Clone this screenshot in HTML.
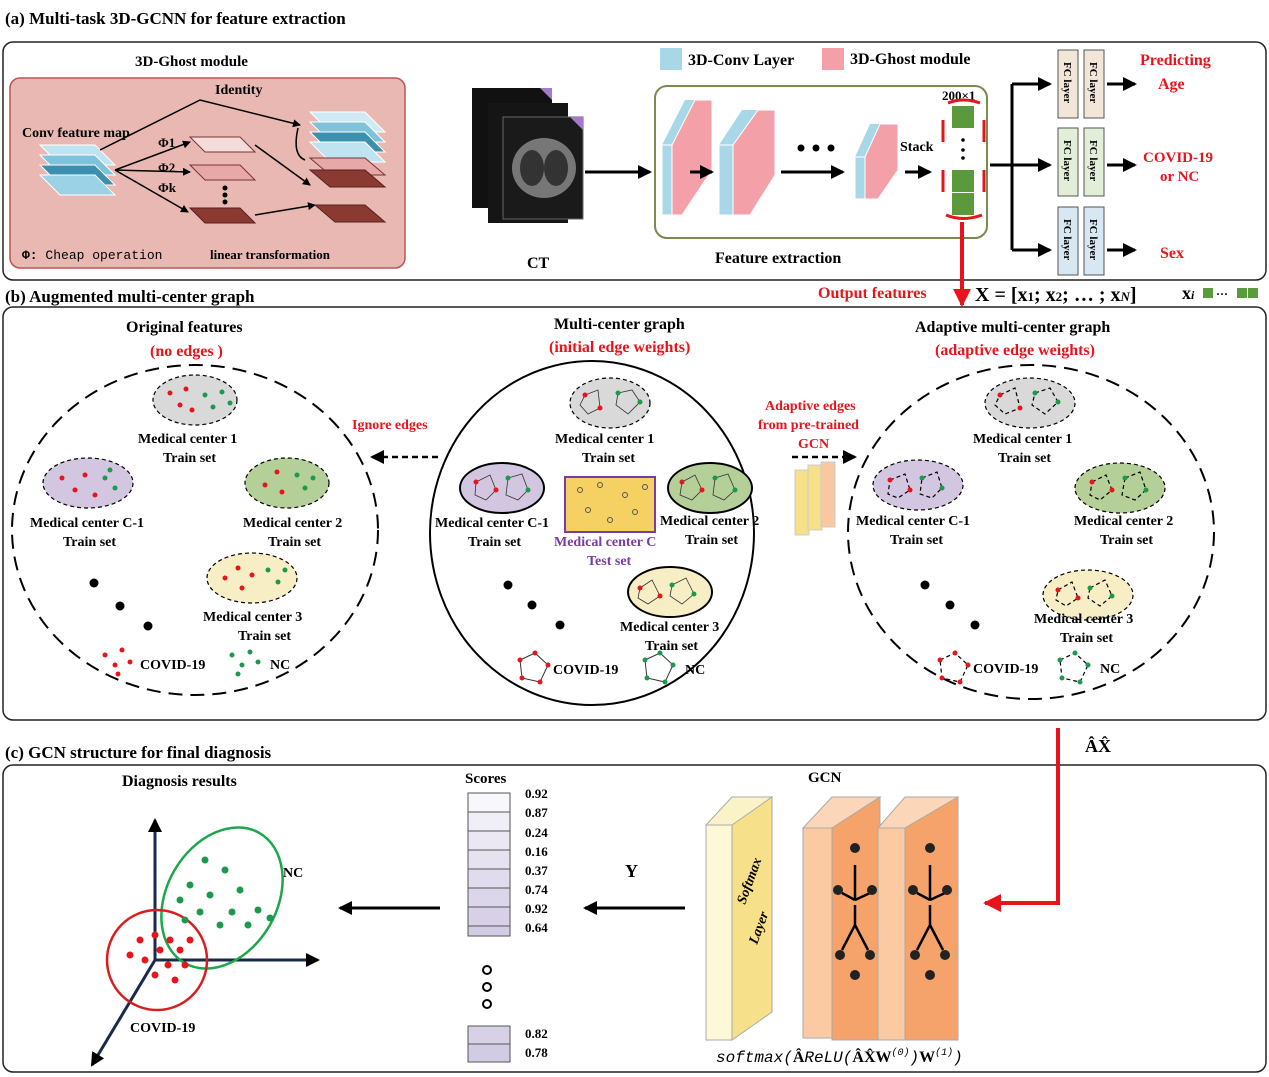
<!DOCTYPE html>
<html><head><meta charset="utf-8"><style>
body{margin:0;background:#fff}
svg{display:block;font-family:"Liberation Serif",serif;font-weight:bold}
.t{font-size:15px}
.r{fill:#e8141c}
</style></head><body>
<svg width="1269" height="1077" viewBox="0 0 1269 1077" xmlns="http://www.w3.org/2000/svg">
<defs>
<marker id="ar" markerWidth="8" markerHeight="8" refX="7" refY="4" orient="auto" markerUnits="userSpaceOnUse"><path d="M0,0 L8,4 L0,8z" fill="#000"/></marker>
<marker id="ab" markerWidth="14" markerHeight="14" refX="12" refY="7" orient="auto" markerUnits="userSpaceOnUse"><path d="M0,0 L14,7 L0,14z" fill="#000"/></marker>
<marker id="arr" markerWidth="18" markerHeight="18" refX="16" refY="9" orient="auto" markerUnits="userSpaceOnUse"><path d="M0,0 L18,9 L0,18z" fill="#e8141c"/></marker>
</defs>
<!-- panel a -->
<text x="5" y="24" font-size="17">(a) Multi-task 3D-GCNN for feature extraction</text>
<rect x="3" y="42" width="1263" height="238" rx="10" fill="none" stroke="#222" stroke-width="1.5"/>
<rect x="10" y="78" width="395" height="190" rx="10" fill="#e9b8b2" stroke="#b55" stroke-width="1.5"/>
<text x="135" y="66" class="t" font-size="16">3D-Ghost module</text>
<text x="215" y="94" font-size="14">Identity</text>
<text x="22" y="137" font-size="14">Conv feature map</text>
<g>
<polygon points="40,145 95,145 115,165 60,165" fill="#bfe3f0" stroke="#fff"/>
<polygon points="40,155 95,155 115,175 60,175" fill="#7fc2da" stroke="#fff"/>
<polygon points="40,165 95,165 115,185 60,185" fill="#3d8fb0" stroke="#fff"/>
<polygon points="40,175 95,175 115,195 60,195" fill="#9bd2e6" stroke="#fff"/>
</g>
<polygon points="190,137 240,137 255,152 205,152" fill="#f5dcdc" stroke="#733"/>
<polygon points="190,165 240,165 255,180 205,180" fill="#e8a8a8" stroke="#733"/>
<polygon points="190,208 240,208 255,223 205,223" fill="#8b3a32" stroke="#522"/>
<circle cx="225" cy="188" r="2.5"/><circle cx="225" cy="195" r="2.5"/><circle cx="225" cy="202" r="2.5"/>
<text x="158" y="147" font-size="13">Φ1</text><text x="158" y="172" font-size="13">Φ2</text><text x="158" y="192" font-size="13">Φk</text>
<g stroke="#000" stroke-width="1.5" fill="none">
<path d="M115,170 L190,142" marker-end="url(#ar)"/><path d="M115,170 L190,172" marker-end="url(#ar)"/><path d="M115,170 L188,212" marker-end="url(#ar)"/>
<path d="M100,150 L200,100 L300,125" marker-end="url(#ar)"/>
<path d="M255,145 L310,185" marker-end="url(#ar)"/><path d="M255,215 L315,205" marker-end="url(#ar)"/>
<path d="M298,128 Q292,155 305,160"/>
</g>
<g>
<polygon points="310,112 365,112 385,132 330,132" fill="#cfeaf4" stroke="#fff"/>
<polygon points="310,122 365,122 385,142 330,142" fill="#7fc2da" stroke="#fff"/>
<polygon points="310,132 365,132 385,152 330,152" fill="#3d8fb0" stroke="#fff"/>
<polygon points="310,142 365,142 385,162 330,162" fill="#bfe3f0" stroke="#fff"/>
<polygon points="310,158 365,158 385,175 330,175" fill="#e8a8a8" stroke="#733"/>
<polygon points="310,170 365,170 385,187 330,187" fill="#8b3a32" stroke="#522"/>
<polygon points="315,205 365,205 385,222 335,222" fill="#8b3a32" stroke="#522"/>
</g>
<text x="22" y="259" font-family="Liberation Mono,monospace" font-weight="normal" font-size="13"><tspan font-weight="bold">Φ:</tspan> Cheap operation</text>
<text x="210" y="259" font-size="13">linear transformation</text>
<!-- CT -->
<rect x="472" y="88" width="80" height="120" fill="#111"/><polygon points="540,88 552,88 552,100" fill="#a57acc"/>
<rect x="488" y="103" width="80" height="120" fill="#151515"/>
<rect x="503" y="117" width="80" height="102" fill="#1a1a1a" stroke="#666"/>
<polygon points="570,117 583,117 583,130" fill="#a57acc"/>
<ellipse cx="544" cy="168" rx="32" ry="30" fill="#777"/><ellipse cx="532" cy="168" rx="12" ry="18" fill="#333"/><ellipse cx="556" cy="168" rx="12" ry="18" fill="#333"/>
<text x="527" y="268" font-size="16">CT</text>
<line x1="585" y1="172" x2="650" y2="172" stroke="#000" stroke-width="3" marker-end="url(#ab)"/>
<!-- legend -->
<rect x="660" y="48" width="22" height="22" fill="#a8d8e8"/><text x="688" y="65" font-size="16">3D-Conv Layer</text>
<rect x="822" y="48" width="22" height="22" fill="#f4a0a8"/><text x="850" y="64" font-size="16">3D-Ghost module</text>
<rect x="655" y="86" width="332" height="152" rx="12" fill="none" stroke="#7a8a50" stroke-width="2"/>
<g>
<polygon points="662,145 685,100 705,100 682,145" fill="#a8d8e8"/><rect x="662" y="145" width="10" height="70" fill="#a8d8e8" stroke="#fff"/>
<polygon points="672,145 695,100 712,100 712,170 682,215 672,215" fill="#f4a0a8" stroke="#fff"/>
<polygon points="719,145 742,110 760,110 737,145" fill="#a8d8e8"/><rect x="719" y="145" width="14" height="70" fill="#a8d8e8" stroke="#fff"/>
<polygon points="733,145 758,110 775,110 775,175 750,215 733,215" fill="#f4a0a8" stroke="#fff"/>
<polygon points="855,157 870,124 880,124 866,157" fill="#a8d8e8"/><rect x="855" y="157" width="10" height="42" fill="#a8d8e8" stroke="#fff"/>
<polygon points="865,157 880,124 898,124 898,170 878,199 865,199" fill="#f4a0a8" stroke="#fff"/>
</g>
<g stroke="#000" stroke-width="3"><line x1="690" y1="172" x2="712" y2="172" marker-end="url(#ab)"/><line x1="781" y1="172" x2="843" y2="172" marker-end="url(#ab)"/><line x1="905" y1="172" x2="930" y2="172" marker-end="url(#ab)"/></g>
<circle cx="801" cy="148" r="3.5"/><circle cx="816" cy="148" r="3.5"/><circle cx="831" cy="148" r="3.5"/>
<text x="900" y="151" font-size="14">Stack</text>
<text x="942" y="100" font-size="13">200×1</text>
<rect x="952" y="106" width="22" height="22" fill="#5a9a3a"/><rect x="952" y="170" width="22" height="22" fill="#5a9a3a"/><rect x="952" y="193" width="22" height="22" fill="#5a9a3a"/>
<circle cx="963" cy="140" r="1.8"/><circle cx="963" cy="150" r="1.8"/><circle cx="963" cy="158" r="1.8"/>
<g stroke="#e8141c" stroke-width="3" fill="none"><path d="M948,103 Q963,97 980,103"/><path d="M943,120 v22 M943,170 v22 M984,120 v22 M984,170 v22"/><path d="M946,215 Q963,222 982,215"/></g>
<text x="715" y="263" font-size="16">Feature extraction</text>
<g stroke="#000" stroke-width="3" fill="none"><path d="M990,165 H1012"/><path d="M1012,84 V250"/><path d="M1012,84 H1050" marker-end="url(#ab)"/><path d="M1012,165 H1050" marker-end="url(#ab)"/><path d="M1012,250 H1050" marker-end="url(#ab)"/><path d="M1107,84 H1135" marker-end="url(#ab)"/><path d="M1107,165 H1135" marker-end="url(#ab)"/><path d="M1107,250 H1135" marker-end="url(#ab)"/></g>
<g font-size="11">
<rect x="1058" y="50" width="20" height="68" fill="#f1e6d8" stroke="#555"/><rect x="1084" y="50" width="20" height="68" fill="#f1e6d8" stroke="#555"/>
<rect x="1058" y="128" width="20" height="68" fill="#e3eed8" stroke="#555"/><rect x="1084" y="128" width="20" height="68" fill="#e3eed8" stroke="#555"/>
<rect x="1058" y="207" width="20" height="68" fill="#d8e8f3" stroke="#555"/><rect x="1084" y="207" width="20" height="68" fill="#d8e8f3" stroke="#555"/>
<text transform="translate(1064,62) rotate(90)">FC layer</text><text transform="translate(1090,62) rotate(90)">FC layer</text>
<text transform="translate(1064,140) rotate(90)">FC layer</text><text transform="translate(1090,140) rotate(90)">FC layer</text>
<text transform="translate(1064,219) rotate(90)">FC layer</text><text transform="translate(1090,219) rotate(90)">FC layer</text>
</g>
<g class="r" font-size="16"><text x="1140" y="65">Predicting</text><text x="1158" y="89">Age</text><text x="1143" y="162" font-size="15">COVID-19</text><text x="1160" y="181" font-size="15">or NC</text><text x="1160" y="258">Sex</text></g>
<!-- output -->
<line x1="962" y1="222" x2="962" y2="305" stroke="#e8141c" stroke-width="4" marker-end="url(#arr)"/>
<text x="818" y="298" class="r" font-size="16">Output features</text>
<text x="975" y="301" font-size="20">X = [x<tspan font-size="13">1</tspan>; x<tspan font-size="13">2</tspan>; … ; x<tspan font-size="13" font-style="italic">N</tspan>]</text>
<text x="1182" y="299" font-size="18">x<tspan font-size="12" font-style="italic">i</tspan></text>
<rect x="1203" y="288" width="10" height="10" fill="#5a9a3a"/><text x="1216" y="298" font-size="12">···</text><rect x="1237" y="288" width="10" height="10" fill="#5a9a3a"/><rect x="1248" y="288" width="10" height="10" fill="#5a9a3a"/>
<!-- panel b -->
<text x="5" y="302" font-size="17">(b) Augmented multi-center graph</text>
<rect x="3" y="307" width="1263" height="413" rx="10" fill="none" stroke="#222" stroke-width="1.5"/>
<text x="126" y="332" font-size="16">Original features</text><text x="150" y="356" class="r" font-size="16">(no edges )</text>
<text x="554" y="329" font-size="16">Multi-center graph</text><text x="549" y="352" class="r" font-size="16">(initial edge weights)</text>
<text x="915" y="332" font-size="16">Adaptive multi-center graph</text><text x="935" y="355" class="r" font-size="16">(adaptive edge weights)</text>
<ellipse cx="195" cy="530" rx="183" ry="165" fill="none" stroke="#000" stroke-width="2" stroke-dasharray="14,8"/>
<ellipse cx="592" cy="533" rx="162" ry="172" fill="none" stroke="#000" stroke-width="2"/>
<ellipse cx="1031" cy="532" rx="183" ry="167" fill="none" stroke="#000" stroke-width="2" stroke-dasharray="14,8"/>
<!-- left clusters -->
<g stroke="#000" stroke-width="1.2" stroke-dasharray="4,3">
<ellipse cx="195" cy="400" rx="42" ry="25" fill="#d9d9d9"/><ellipse cx="88" cy="483" rx="45" ry="25" fill="#d2c6e0"/><ellipse cx="287" cy="483" rx="42" ry="25" fill="#b5cf98"/><ellipse cx="252" cy="578" rx="45" ry="25" fill="#f7eec5"/>
</g>
<g fill="#e8141c"><circle cx="170" cy="393" r="2.5"/><circle cx="180" cy="405" r="2.5"/><circle cx="186" cy="389" r="2.5"/><circle cx="192" cy="410" r="2.5"/>
<circle cx="62" cy="478" r="2.5"/><circle cx="75" cy="490" r="2.5"/><circle cx="85" cy="475" r="2.5"/><circle cx="95" cy="495" r="2.5"/>
<circle cx="265" cy="485" r="2.5"/><circle cx="277" cy="472" r="2.5"/><circle cx="282" cy="492" r="2.5"/>
<circle cx="225" cy="578" r="2.5"/><circle cx="238" cy="568" r="2.5"/><circle cx="242" cy="588" r="2.5"/><circle cx="252" cy="575" r="2.5"/></g>
<g fill="#1a9a4a"><circle cx="205" cy="395" r="2.5"/><circle cx="213" cy="407" r="2.5"/><circle cx="222" cy="392" r="2.5"/><circle cx="230" cy="403" r="2.5"/>
<circle cx="105" cy="478" r="2.5"/><circle cx="115" cy="488" r="2.5"/><circle cx="110" cy="470" r="2.5"/>
<circle cx="297" cy="475" r="2.5"/><circle cx="305" cy="488" r="2.5"/><circle cx="313" cy="478" r="2.5"/>
<circle cx="268" cy="570" r="2.5"/><circle cx="278" cy="582" r="2.5"/><circle cx="285" cy="570" r="2.5"/></g>
<g font-size="14">
<text x="138" y="443">Medical center 1</text><text x="163" y="462">Train set</text>
<text x="30" y="527">Medical center C-1</text><text x="63" y="546">Train set</text>
<text x="243" y="527">Medical center 2</text><text x="268" y="546">Train set</text>
<text x="203" y="621">Medical center 3</text><text x="238" y="640">Train set</text>
<text x="140" y="669">COVID-19</text><text x="270" y="669">NC</text></g>
<circle cx="94" cy="583" r="4.5"/><circle cx="120" cy="606" r="4.5"/><circle cx="148" cy="626" r="4.5"/>
<g fill="#e8141c"><circle cx="105" cy="655" r="2.5"/><circle cx="115" cy="665" r="2.5"/><circle cx="122" cy="650" r="2.5"/><circle cx="130" cy="662" r="2.5"/><circle cx="118" cy="674" r="2.5"/></g>
<g fill="#1a9a4a"><circle cx="232" cy="655" r="2.5"/><circle cx="242" cy="665" r="2.5"/><circle cx="250" cy="652" r="2.5"/><circle cx="258" cy="662" r="2.5"/><circle cx="238" cy="674" r="2.5"/></g>
<line x1="438" y1="457" x2="372" y2="457" stroke="#000" stroke-width="2.5" stroke-dasharray="6,4" marker-end="url(#ab)"/>
<text x="352" y="429" class="r" font-size="14">Ignore edges</text>
<!-- middle clusters -->
<g stroke="#000" stroke-width="2">
<ellipse cx="610" cy="403" rx="40" ry="25" fill="#d9d9d9" stroke-dasharray="4,3" stroke-width="1.2"/>
<ellipse cx="502" cy="488" rx="42" ry="25" fill="#d2c6e0"/><ellipse cx="710" cy="488" rx="42" ry="25" fill="#b5cf98"/><ellipse cx="670" cy="592" rx="42" ry="25" fill="#f7eec5"/>
<rect x="565" y="477" width="90" height="55" fill="#f5d062" stroke="#7a3aa8"/>
</g>
<g stroke="#333" stroke-width="0.8" fill="none">
<polygon points="585,395 598,390 600,408 588,414 580,405"/><polygon points="618,393 632,390 640,402 628,414 616,405"/>
<polygon points="476,482 490,475 496,490 486,500 475,495"/><polygon points="508,478 522,474 528,490 518,500 506,495"/>
<polygon points="682,482 695,475 702,490 692,500 680,495"/><polygon points="715,478 728,474 735,490 724,500 713,495"/>
<polygon points="640,588 652,580 660,596 648,604 638,598"/><polygon points="672,585 686,578 694,594 682,604 670,596"/>
</g>
<g fill="#e8141c"><circle cx="585" cy="395" r="2.5"/><circle cx="600" cy="408" r="2.5"/><circle cx="476" cy="482" r="2.5"/><circle cx="496" cy="490" r="2.5"/><circle cx="682" cy="482" r="2.5"/><circle cx="702" cy="490" r="2.5"/><circle cx="640" cy="588" r="2.5"/><circle cx="660" cy="596" r="2.5"/></g>
<g fill="#1a9a4a"><circle cx="618" cy="393" r="2.5"/><circle cx="640" cy="402" r="2.5"/><circle cx="508" cy="478" r="2.5"/><circle cx="528" cy="490" r="2.5"/><circle cx="715" cy="478" r="2.5"/><circle cx="735" cy="490" r="2.5"/><circle cx="672" cy="585" r="2.5"/><circle cx="694" cy="594" r="2.5"/></g>
<g fill="none" stroke="#555"><circle cx="580" cy="490" r="2.5"/><circle cx="600" cy="485" r="2.5"/><circle cx="625" cy="495" r="2.5"/><circle cx="645" cy="487" r="2.5"/><circle cx="588" cy="510" r="2.5"/><circle cx="610" cy="520" r="2.5"/><circle cx="635" cy="512" r="2.5"/></g>
<g font-size="14">
<text x="555" y="443">Medical center 1</text><text x="582" y="462">Train set</text>
<text x="435" y="527">Medical center C-1</text><text x="468" y="546">Train set</text>
<text x="660" y="525">Medical center 2</text><text x="685" y="544">Train set</text>
<text x="554" y="546" fill="#7a3aa8">Medical center C</text><text x="587" y="565" fill="#7a3aa8">Test set</text>
<text x="620" y="631">Medical center 3</text><text x="645" y="650">Train set</text>
<text x="553" y="674">COVID-19</text><text x="685" y="674">NC</text></g>
<circle cx="508" cy="585" r="4.5"/><circle cx="532" cy="605" r="4.5"/><circle cx="560" cy="625" r="4.5"/>
<polygon points="520,660 535,653 548,665 540,682 522,678" fill="none" stroke="#333"/><g fill="#e8141c"><circle cx="520" cy="660" r="2.5"/><circle cx="535" cy="653" r="2.5"/><circle cx="548" cy="665" r="2.5"/><circle cx="540" cy="682" r="2.5"/><circle cx="522" cy="678" r="2.5"/></g>
<polygon points="645,660 660,653 673,665 665,682 647,678" fill="none" stroke="#333"/><g fill="#1a9a4a"><circle cx="645" cy="660" r="2.5"/><circle cx="660" cy="653" r="2.5"/><circle cx="673" cy="665" r="2.5"/><circle cx="665" cy="682" r="2.5"/><circle cx="647" cy="678" r="2.5"/></g>
<line x1="792" y1="457" x2="855" y2="457" stroke="#000" stroke-width="2.5" stroke-dasharray="6,4" marker-end="url(#ab)"/>
<g class="r" font-size="14"><text x="765" y="410">Adaptive edges</text><text x="758" y="429">from pre-trained</text><text x="798" y="448">GCN</text></g>
<rect x="795" y="470" width="14" height="65" fill="#f6e08a" stroke="#ccc"/><rect x="808" y="465" width="14" height="65" fill="#f6e08a" stroke="#ccc"/><rect x="821" y="462" width="14" height="65" fill="#f8c8a0" stroke="#ccc"/>
<!-- right clusters -->
<g stroke="#000" stroke-width="1.2" stroke-dasharray="4,3">
<ellipse cx="1030" cy="403" rx="45" ry="25" fill="#d9d9d9"/><ellipse cx="918" cy="485" rx="45" ry="25" fill="#d2c6e0"/><ellipse cx="1120" cy="488" rx="45" ry="25" fill="#b5cf98"/><ellipse cx="1088" cy="595" rx="45" ry="25" fill="#f7eec5"/>
<polygon points="1000,395 1015,388 1020,408 1005,414 995,405" fill="none"/><polygon points="1035,393 1050,388 1058,402 1045,414 1032,405" fill="none"/>
<polygon points="890,480 905,474 910,490 898,498 888,494" fill="none"/><polygon points="922,478 937,472 942,488 932,498 920,494" fill="none"/>
<polygon points="1092,482 1106,475 1112,490 1100,500 1090,495" fill="none"/><polygon points="1125,478 1140,472 1146,490 1135,500 1122,495" fill="none"/>
<polygon points="1058,590 1072,582 1078,598 1066,606 1056,600" fill="none"/><polygon points="1090,588 1105,580 1112,596 1100,606 1088,598" fill="none"/>
<polygon points="940,660 955,653 968,665 960,682 942,678" fill="none"/><polygon points="1060,660 1075,653 1088,665 1080,682 1062,678" fill="none"/>
</g>
<g fill="#e8141c"><circle cx="1000" cy="395" r="2.5"/><circle cx="1020" cy="408" r="2.5"/><circle cx="890" cy="480" r="2.5"/><circle cx="910" cy="490" r="2.5"/><circle cx="1092" cy="482" r="2.5"/><circle cx="1112" cy="490" r="2.5"/><circle cx="1058" cy="590" r="2.5"/><circle cx="1078" cy="598" r="2.5"/><circle cx="940" cy="660" r="2.5"/><circle cx="955" cy="653" r="2.5"/><circle cx="968" cy="665" r="2.5"/><circle cx="960" cy="682" r="2.5"/><circle cx="942" cy="678" r="2.5"/></g>
<g fill="#1a9a4a"><circle cx="1035" cy="393" r="2.5"/><circle cx="1058" cy="402" r="2.5"/><circle cx="922" cy="478" r="2.5"/><circle cx="942" cy="488" r="2.5"/><circle cx="1125" cy="478" r="2.5"/><circle cx="1146" cy="490" r="2.5"/><circle cx="1090" cy="588" r="2.5"/><circle cx="1112" cy="596" r="2.5"/><circle cx="1060" cy="660" r="2.5"/><circle cx="1075" cy="653" r="2.5"/><circle cx="1088" cy="665" r="2.5"/><circle cx="1080" cy="682" r="2.5"/><circle cx="1062" cy="678" r="2.5"/></g>
<g font-size="14">
<text x="973" y="443">Medical center 1</text><text x="998" y="462">Train set</text>
<text x="856" y="525">Medical center C-1</text><text x="890" y="544">Train set</text>
<text x="1074" y="525">Medical center 2</text><text x="1100" y="544">Train set</text>
<text x="1034" y="623">Medical center 3</text><text x="1060" y="642">Train set</text>
<text x="973" y="673">COVID-19</text><text x="1100" y="673">NC</text></g>
<circle cx="925" cy="585" r="4.5"/><circle cx="950" cy="605" r="4.5"/><circle cx="975" cy="625" r="4.5"/>
<!-- panel c -->
<text x="5" y="758" font-size="17">(c) GCN structure for final diagnosis</text>
<rect x="3" y="765" width="1263" height="307" rx="10" fill="none" stroke="#222" stroke-width="1.5"/>
<path d="M1058,728 V903 H985" fill="none" stroke="#e8141c" stroke-width="4" marker-end="url(#arr)"/>
<text x="1085" y="752" font-size="18">ÂX̂</text>
<text x="122" y="786" font-size="16">Diagnosis results</text>
<g stroke="#1a2a4a" stroke-width="3" fill="none">
<line x1="155" y1="960" x2="155" y2="820" marker-end="url(#ab)"/><line x1="155" y1="960" x2="318" y2="960" marker-end="url(#ab)"/><line x1="155" y1="960" x2="92" y2="1065" marker-end="url(#ab)"/></g>
<ellipse cx="222" cy="898" rx="55" ry="75" transform="rotate(30 222 898)" fill="none" stroke="#1aa84a" stroke-width="2.5"/>
<ellipse cx="157" cy="960" rx="50" ry="50" fill="none" stroke="#d81e1e" stroke-width="2.5"/>
<g fill="#1a9a4a"><circle cx="205" cy="860" r="3.5"/><circle cx="225" cy="870" r="3.5"/><circle cx="190" cy="885" r="3.5"/><circle cx="210" cy="895" r="3.5"/><circle cx="240" cy="890" r="3.5"/><circle cx="258" cy="910" r="3.5"/><circle cx="232" cy="912" r="3.5"/><circle cx="200" cy="912" r="3.5"/><circle cx="220" cy="925" r="3.5"/><circle cx="185" cy="920" r="3.5"/><circle cx="248" cy="925" r="3.5"/><circle cx="270" cy="918" r="3.5"/><circle cx="180" cy="900" r="3.5"/></g>
<g fill="#e8141c"><circle cx="140" cy="940" r="3.5"/><circle cx="155" cy="935" r="3.5"/><circle cx="170" cy="940" r="3.5"/><circle cx="180" cy="950" r="3.5"/><circle cx="160" cy="950" r="3.5"/><circle cx="145" cy="960" r="3.5"/><circle cx="168" cy="965" r="3.5"/><circle cx="185" cy="965" r="3.5"/><circle cx="155" cy="975" r="3.5"/><circle cx="175" cy="980" r="3.5"/><circle cx="190" cy="940" r="3.5"/><circle cx="130" cy="955" r="3.5"/></g>
<text x="283" y="877" font-size="14">NC</text><text x="130" y="1032" font-size="14">COVID-19</text>
<line x1="440" y1="908" x2="340" y2="908" stroke="#000" stroke-width="3" marker-end="url(#ab)"/>
<line x1="685" y1="908" x2="585" y2="908" stroke="#000" stroke-width="3" marker-end="url(#ab)"/>
<text x="625" y="877" font-size="18">Y</text>
<text x="465" y="783" font-size="15">Scores</text>
<g stroke="#555" stroke-width="1">
<rect x="468" y="793" width="42" height="19" fill="#f8f7fb"/><rect x="468" y="812" width="42" height="19" fill="#f0eef6"/><rect x="468" y="831" width="42" height="19" fill="#ebe8f3"/><rect x="468" y="850" width="42" height="19" fill="#e6e2f0"/><rect x="468" y="869" width="42" height="19" fill="#e1dced"/><rect x="468" y="888" width="42" height="19" fill="#dcd6ea"/><rect x="468" y="907" width="42" height="19" fill="#d7d0e7"/><rect x="468" y="926" width="42" height="10" fill="#d2cbe4"/>
<rect x="468" y="1026" width="42" height="18" fill="#d7d0e7"/><rect x="468" y="1044" width="42" height="18" fill="#d2cbe4"/></g>
<g font-size="13"><text x="525" y="798">0.92</text><text x="525" y="817">0.87</text><text x="525" y="837">0.24</text><text x="525" y="856">0.16</text><text x="525" y="875">0.37</text><text x="525" y="894">0.74</text><text x="525" y="913">0.92</text><text x="525" y="932">0.64</text><text x="525" y="1038">0.82</text><text x="525" y="1057">0.78</text></g>
<g fill="none" stroke="#000" stroke-width="2"><circle cx="487" cy="970" r="4"/><circle cx="487" cy="987" r="4"/><circle cx="487" cy="1004" r="4"/></g>
<!-- GCN layers -->
<polygon points="706,825 732,797 772,797 746,825" fill="#fbf3c8" stroke="#aaa"/>
<rect x="706" y="825" width="26" height="215" fill="#fdf8d8" stroke="#aaa"/>
<polygon points="732,825 772,797 772,1012 732,1040" fill="#f6e08a" stroke="#aaa"/>
<text transform="translate(745,905) rotate(-70)" font-size="14" font-style="italic">Softmax</text>
<text transform="translate(757,945) rotate(-70)" font-size="14" font-style="italic">Layer</text>
<polygon points="803,828 832,797 880,797 832,828" fill="#fbd6b8" stroke="#aaa"/>
<rect x="803" y="828" width="29" height="210" fill="#fbc9a2" stroke="#aaa"/>
<polygon points="832,828 880,797 880,1040 832,1040" fill="#f5a36b" stroke="#aaa"/>
<polygon points="878,828 905,797 958,797 905,828" fill="#fbd6b8" stroke="#aaa"/>
<rect x="878" y="828" width="27" height="212" fill="#fbc9a2" stroke="#aaa"/>
<polygon points="905,828 958,797 958,1040 905,1040" fill="#f5a36b" stroke="#aaa"/>
<text x="808" y="782" font-size="15">GCN</text>
<g stroke="#000" stroke-width="2.5" fill="none">
<path d="M855,865 V900 M855,900 L842,893 M855,900 L870,893 M855,905 V925 L842,950 M855,925 L868,950"/>
<path d="M930,865 V900 M930,900 L917,893 M930,900 L945,893 M930,905 V925 L917,950 M930,925 L943,950"/></g>
<g fill="#222"><circle cx="855" cy="848" r="5"/><circle cx="838" cy="890" r="5"/><circle cx="872" cy="890" r="5"/><circle cx="840" cy="955" r="5"/><circle cx="870" cy="955" r="5"/><circle cx="855" cy="975" r="5"/>
<circle cx="930" cy="848" r="5"/><circle cx="913" cy="890" r="5"/><circle cx="947" cy="890" r="5"/><circle cx="915" cy="955" r="5"/><circle cx="945" cy="955" r="5"/><circle cx="930" cy="975" r="5"/></g>
<rect x="708" y="1043" width="300" height="24" fill="#fff"/>
<text x="716" y="1062" font-family="Liberation Mono,monospace" font-weight="normal" font-style="italic" font-size="16">softmax(<tspan font-family="Liberation Serif" font-weight="bold" font-style="normal">Â</tspan>ReLU(<tspan font-family="Liberation Serif" font-weight="bold" font-style="normal">ÂX̂W</tspan><tspan font-size="10" dy="-7">(0)</tspan><tspan dy="7">)</tspan><tspan font-family="Liberation Serif" font-weight="bold" font-style="normal">W</tspan><tspan font-size="10" dy="-7">(1)</tspan><tspan dy="7">)</tspan></text>
</svg>
</body></html>
